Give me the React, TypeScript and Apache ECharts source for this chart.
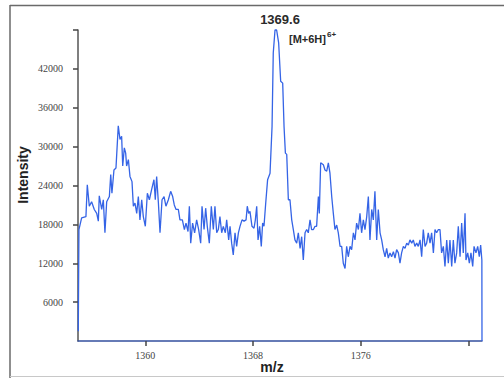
import React, { useEffect, useRef } from "react";
import * as echarts from "echarts";

const mz = [
  1355.02, 1355.07, 1355.27, 1355.59, 1355.69, 1355.84, 1356.01, 1356.21, 1356.39, 1356.51,
  1356.58, 1356.76, 1356.88, 1357.0, 1357.13, 1357.33, 1357.43, 1357.52, 1357.67, 1357.82,
  1357.99, 1358.12, 1358.24, 1358.32, 1358.44, 1358.54, 1358.61, 1358.74, 1358.86, 1359.01,
  1359.11, 1359.23, 1359.36, 1359.48, 1359.6, 1359.73, 1359.85, 1360.0, 1360.15, 1360.3,
  1360.47, 1360.64, 1360.74, 1360.84, 1360.97, 1361.09, 1361.24, 1361.39, 1361.53, 1361.71,
  1361.88, 1362.03, 1362.15, 1362.28, 1362.45, 1362.57, 1362.75, 1362.9, 1363.02, 1363.17,
  1363.27, 1363.37, 1363.51, 1363.66, 1363.81, 1363.96, 1364.11, 1364.21, 1364.36, 1364.48,
  1364.6, 1364.75, 1364.9, 1365.05, 1365.17, 1365.3, 1365.42, 1365.54, 1365.67, 1365.79,
  1365.94, 1366.04, 1366.19, 1366.29, 1366.41, 1366.53, 1366.66, 1366.78, 1366.91, 1367.03,
  1367.18, 1367.33, 1367.48, 1367.57, 1367.67, 1367.77, 1367.92, 1368.07, 1368.17, 1368.27,
  1368.37, 1368.49, 1368.61, 1368.71, 1368.81, 1368.94, 1369.08, 1369.26, 1369.41, 1369.5,
  1369.63, 1369.75, 1369.9, 1370.05, 1370.2, 1370.3, 1370.4, 1370.5, 1370.62, 1370.74,
  1370.87, 1370.99, 1371.11, 1371.24, 1371.36, 1371.49, 1371.61, 1371.73, 1371.86, 1371.98,
  1372.1, 1372.23, 1372.35, 1372.48, 1372.6, 1372.72, 1372.85, 1372.92, 1373.02, 1373.22,
  1373.34, 1373.47, 1373.59, 1373.71, 1373.84, 1373.96, 1374.08, 1374.21, 1374.33, 1374.46,
  1374.58, 1374.7, 1374.83, 1374.95, 1375.07, 1375.2, 1375.32, 1375.45, 1375.57, 1375.69,
  1375.82, 1375.94, 1376.06, 1376.19, 1376.31, 1376.44, 1376.56, 1376.68, 1376.81, 1376.93,
  1377.05, 1377.18, 1377.3, 1377.43, 1377.55, 1377.67, 1377.8, 1377.92, 1378.04, 1378.17,
  1378.29, 1378.42, 1378.54, 1378.66, 1378.79, 1378.91, 1379.03, 1379.16, 1379.28, 1379.41,
  1379.53, 1379.65, 1379.78, 1379.9, 1380.02, 1380.15, 1380.27, 1380.4, 1380.52, 1380.64,
  1380.77, 1380.89, 1381.01, 1381.14, 1381.26, 1381.39, 1381.51, 1381.63, 1381.76, 1381.88,
  1382.0, 1382.13, 1382.25, 1382.38, 1382.5, 1382.62, 1382.75, 1382.87, 1382.99, 1383.12,
  1383.24, 1383.37, 1383.49, 1383.61, 1383.74, 1383.81, 1383.94, 1384.06, 1384.18, 1384.31,
  1384.41, 1384.55, 1384.68, 1384.8, 1384.9, 1384.99, 1385.0,
];

const intensity = [
  1500, 17200, 19000, 19200, 24100, 20800, 21500, 20300, 19700, 18500,
  22400, 20300, 21800, 16700, 21500, 22300, 25700, 22800, 26400, 26700,
  33200, 31100, 31600, 27000, 29800, 29000, 27000, 28000, 25400, 24600,
  20800, 21300, 19700, 22300, 18700, 21800, 19200, 17700, 22800, 21800,
  23400, 24900, 21800, 25400, 21300, 16700, 21800, 22300, 20800, 21800,
  23100, 22300, 21000, 20300, 20300, 18700, 18700, 17200, 18200, 16900,
  20800, 15100, 18200, 16700, 18700, 17200, 15100, 20800, 17200, 20500,
  17700, 15100, 20800, 17200, 20800, 16700, 17200, 19200, 16700, 17700,
  16700, 18700, 15600, 17700, 15100, 13300, 16700, 14600, 16700, 17700,
  18700, 18500, 18700, 20800, 19700, 20000, 17700, 17400, 18700, 20800,
  15600, 17700, 14600, 18200, 17700, 21300, 24900, 25900, 33100, 44500,
  48000, 48000, 46000, 40100, 39800, 33100, 29000, 28800, 21800, 21800,
  18700, 17200, 15600, 15100, 16700, 14300, 16100, 12500, 16700, 17200,
  16700, 18700, 17200, 17200, 17700, 17700, 22300, 19700, 27500, 27200,
  26400, 26200, 27500, 25900, 22300, 19700, 17200, 17900, 16700, 14600,
  14600, 12000, 11200, 14600, 13000, 14600, 14100, 16700, 15600, 18200,
  17200, 19700, 16700, 18700, 17200, 19200, 22300, 15600, 20300, 18700,
  23100, 15600, 20300, 16700, 15600, 14100, 13000, 14300, 12800, 13600,
  13000, 13800, 12800, 14100, 13600, 12000, 13600, 14600, 14300, 15100,
  14800, 15600, 15100, 15600, 14600, 15100, 14600, 15600, 13000, 17200,
  14600, 15100, 16700, 15100, 16700, 13600, 17200, 16700, 17200, 17200,
  13600, 14600, 11500, 15600, 12000, 15600, 11500, 15600, 12000, 13600,
  17700, 13000, 18200, 13600, 19700, 12500, 13600, 12000, 13600, 11500,
  14600, 13600, 14600, 13000, 14800, 12500, 0,
];

const xLabelValues = [1360, 1368, 1376];
const xTickValues = [1360, 1368, 1376, 1384];
const yLabelValues = [6000, 12000, 18000, 24000, 30000, 36000, 42000];
const yTickValues = [6000, 12000, 18000, 24000, 30000, 36000, 42000, 48000];

const peakLabel = "1369.6";
const ionLabel = "[M+6H]";
const chargeLabel = "6+";
const xTitle = "m/z";
const yTitle = "Intensity";

export default function App() {
  const ref = useRef<HTMLDivElement>(null);

  useEffect(() => {
    document.body.style.margin = "0";
    if (!ref.current) return;
    const chart = echarts.init(ref.current, null, { renderer: "svg" });
    const data = mz.map((m, i) => [m, intensity[i]]);
    const serif = "Liberation Serif, DejaVu Serif, serif";
    const sans = "Liberation Sans, Arial, sans-serif";
    const plain = (v: number) => String(v);
    chart.setOption({
      animation: false,
      backgroundColor: "#ffffff",
      grid: { left: 78, right: 22, top: 30, bottom: 37 },
      xAxis: {
        type: "value",
        min: 1355,
        max: 1385,
        splitLine: { show: false },
        axisLine: { show: true, lineStyle: { color: "#34509e", width: 1.5 } },
        axisTick: {
          show: true,
          length: 5,
          customValues: xTickValues,
          lineStyle: { color: "#444", width: 1.5 },
        },
        axisLabel: {
          customValues: xLabelValues,
          formatter: plain,
          margin: 9,
          fontFamily: serif,
          fontSize: 10,
          color: "#444",
        },
      },
      yAxis: {
        type: "value",
        min: 0,
        max: 48000,
        splitLine: { show: false },
        axisLine: { show: true, lineStyle: { color: "#555", width: 1.5 } },
        axisTick: {
          show: true,
          length: 5,
          customValues: yTickValues,
          lineStyle: { color: "#444", width: 1.5 },
        },
        axisLabel: {
          customValues: yLabelValues,
          formatter: plain,
          margin: 15,
          fontFamily: serif,
          fontSize: 10,
          color: "#444",
        },
      },
      series: [
        {
          type: "line",
          data,
          showSymbol: false,
          clip: false,
          lineStyle: { color: "#3564e6", width: 1.3 },
          itemStyle: { color: "#3564e6" },
        },
      ],
      graphic: [
        { type: "line", shape: { x1: 10, y1: 5.5, x2: 504, y2: 5.5 }, style: { stroke: "#6a6a6a", lineWidth: 1.5 } },
        { type: "line", shape: { x1: 10, y1: 5, x2: 10, y2: 378 }, style: { stroke: "#6a6a6a", lineWidth: 1.5 } },
        { type: "line", shape: { x1: 10, y1: 376.5, x2: 504, y2: 376.5 }, style: { stroke: "#c8c8c8", lineWidth: 1 } },
        {
          type: "text",
          x: 280,
          y: 19,
          style: { text: peakLabel, font: `bold 13px ${sans}`, fill: "#2a2a2a", textAlign: "center", textVerticalAlign: "middle" },
        },
        {
          type: "text",
          x: 289,
          y: 39,
          style: { text: ionLabel, font: `bold 11px ${sans}`, fill: "#2a2a2a", textAlign: "left", textVerticalAlign: "middle" },
        },
        {
          type: "text",
          x: 327,
          y: 34,
          style: { text: chargeLabel, font: `bold 8px ${sans}`, fill: "#2a2a2a", textAlign: "left", textVerticalAlign: "middle" },
        },
        {
          type: "text",
          x: 272,
          y: 367,
          style: { text: xTitle, font: `bold 14px ${sans}`, fill: "#222", textAlign: "center", textVerticalAlign: "middle" },
        },
        {
          type: "text",
          x: 23,
          y: 175,
          rotation: Math.PI / 2,
          style: { text: yTitle, font: `bold 14px ${sans}`, fill: "#222", textAlign: "center", textVerticalAlign: "middle" },
        },
      ],
    });
    return () => chart.dispose();
  }, []);

  return <div ref={ref} style={{ width: 504, height: 378 }} />;
}
